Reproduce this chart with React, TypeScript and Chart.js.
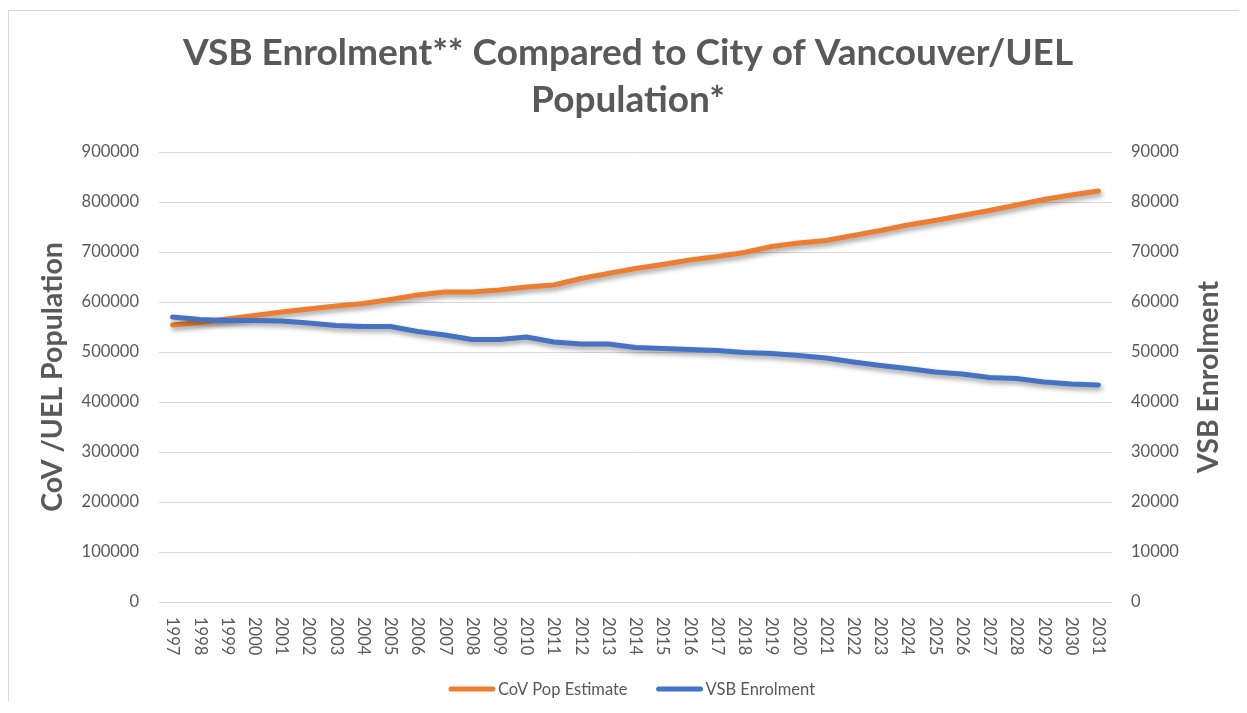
import React, { useEffect, useRef } from "react";
import { Chart, registerables } from "chart.js";

Chart.register(...registerables);

const years = ["1997","1998","1999","2000","2001","2002","2003","2004","2005","2006","2007","2008","2009","2010","2011","2012","2013","2014","2015","2016","2017","2018","2019","2020","2021","2022","2023","2024","2025","2026","2027","2028","2029","2030","2031"];

const covPop = [554000, 559000, 566000, 573000, 580000, 586000, 592000, 597000, 605000, 614000, 620000, 620000, 624000, 630000, 634000, 647000, 657000, 667000, 675000, 684000, 691000, 699000, 711000, 718000, 723000, 733000, 743000, 754000, 763000, 773000, 783000, 794000, 805000, 814000, 822000];

const vsbEnrolment = [57000, 56500, 56300, 56300, 56200, 55800, 55300, 55100, 55100, 54100, 53400, 52500, 52500, 53000, 52000, 51600, 51600, 50900, 50700, 50500, 50300, 49900, 49700, 49300, 48800, 48000, 47300, 46700, 46000, 45600, 44900, 44700, 44000, 43600, 43400];

const titleLines = ["VSB Enrolment** Compared to City of Vancouver/UEL", "Population*"];
const leftTitle = "CoV /UEL Population";
const rightTitle = "VSB Enrolment";
const seriesNames = ["CoV Pop Estimate", "VSB Enrolment"];

const TEXT = "#595959";
const GRID = "#d9d9d9";
const ORANGE = "#ED7D31";
const BLUE = "#4472C4";
const FONT = "Lato, 'Open Sans', sans-serif";

const shadowPlugin = {
  id: "shadowPlugin",
  beforeDatasetsDraw(chart: any) {
    const ctx = chart.ctx;
    ctx.save();
    ctx.shadowColor = "rgba(0,0,0,0.38)";
    ctx.shadowBlur = 5;
    ctx.shadowOffsetX = 1.5;
    ctx.shadowOffsetY = 3;
  },
  afterDatasetsDraw(chart: any) {
    chart.ctx.restore();
  },
};

const extrasPlugin = {
  id: "extrasPlugin",
  afterDraw(chart: any) {
    const ctx = chart.ctx;
    const xs = chart.scales.x;
    const area = chart.chartArea;
    // x tick labels rotated clockwise
    ctx.save();
    ctx.fillStyle = TEXT;
    ctx.font = `16.5px ${FONT}`;
    ctx.textAlign = "left";
    ctx.textBaseline = "middle";
    const labels = chart.data.labels as string[];
    labels.forEach((lab, i) => {
      const x = xs.getPixelForTick(i);
      ctx.save();
      ctx.translate(x, area.bottom + 15);
      ctx.rotate(Math.PI / 2);
      ctx.fillText(lab, 0, 0);
      ctx.restore();
    });
    ctx.restore();

    // right axis title (reads bottom to top)
    ctx.save();
    ctx.fillStyle = TEXT;
    ctx.font = `bold 28.5px ${FONT}`;
    ctx.textAlign = "center";
    ctx.textBaseline = "middle";
    ctx.translate(area.right + 97, (area.top + area.bottom) / 2);
    ctx.rotate(-Math.PI / 2);
    ctx.fillText(rightTitle, 0, 0);
    ctx.restore();

    // legend
    ctx.save();
    ctx.font = `16.5px ${FONT}`;
    ctx.textBaseline = "middle";
    ctx.textAlign = "left";
    const lineW = 46;
    const gapText = 3;
    const gapItems = 29;
    const ds = chart.data.datasets;
    const widths = ds.map((d: any) => lineW + gapText + ctx.measureText(d.label).width);
    const total = widths.reduce((a: number, b: number) => a + b, 0) + gapItems * (ds.length - 1);
    let x = chart.width / 2 + 4 - total / 2;
    const y = area.bottom + 87;
    ds.forEach((d: any, i: number) => {
      ctx.strokeStyle = d.borderColor;
      ctx.lineWidth = 5;
      ctx.lineCap = "round";
      ctx.beginPath();
      ctx.moveTo(x + 2, y);
      ctx.lineTo(x + lineW - 2, y);
      ctx.stroke();
      ctx.fillStyle = TEXT;
      ctx.fillText(d.label, x + lineW + gapText, y + 1);
      x += widths[i] + gapItems;
    });
    ctx.restore();
  },
};

export default function App() {
  const ref = useRef<HTMLCanvasElement | null>(null);

  useEffect(() => {
    if (!ref.current) return;
    const chart = new Chart(ref.current, {
      type: "line",
      data: {
        labels: years,
        datasets: [
          {
            label: seriesNames[0],
            data: covPop,
            borderColor: ORANGE,
            backgroundColor: ORANGE,
            borderWidth: 5,
            pointRadius: 0,
            tension: 0,
            borderJoinStyle: "round",
            borderCapStyle: "round",
            yAxisID: "y",
            order: 1,
          },
          {
            label: seriesNames[1],
            data: vsbEnrolment,
            borderColor: BLUE,
            backgroundColor: BLUE,
            borderWidth: 5,
            pointRadius: 0,
            tension: 0,
            borderJoinStyle: "round",
            borderCapStyle: "round",
            yAxisID: "y1",
            order: 0,
          },
        ],
      },
      options: {
        animation: false,
        responsive: false,
        maintainAspectRatio: false,
        layout: { padding: { left: 0, right: 0, top: 0, bottom: 41 } },
        plugins: {
          legend: { display: false },
          tooltip: { enabled: false },
          title: {
            display: true,
            text: titleLines,
            color: TEXT,
            font: { family: FONT, size: 37, weight: "bold", lineHeight: 47 / 37 },
            padding: { top: 18.5, bottom: 28.5 },
          },
        },
        scales: {
          x: {
            type: "category",
            offset: true,
            grid: { display: false },
            border: { display: false },
            ticks: { display: false },
            afterFit(scale: any) {
              scale.height = 60;
            },
          },
          y: {
            position: "left",
            min: 0,
            max: 900000,
            ticks: {
              stepSize: 100000,
              color: TEXT,
              padding: 20,
              font: { family: FONT, size: 16.5 },
              callback: (v: any) => String(v),
            },
            grid: { color: GRID, lineWidth: 1, drawTicks: false },
            border: { display: false },
            title: {
              display: true,
              text: leftTitle,
              color: TEXT,
              font: { family: FONT, size: 28.5, weight: "bold", lineHeight: 1.2 },
              padding: { top: 27, bottom: 0 },
            },
            afterFit(scale: any) {
              scale.width = 150;
            },
          },
          y1: {
            position: "right",
            min: 0,
            max: 90000,
            ticks: {
              stepSize: 10000,
              color: TEXT,
              padding: 19,
              font: { family: FONT, size: 16.5 },
              callback: (v: any) => String(v),
            },
            grid: { display: false, drawTicks: false },
            border: { display: false },
            afterFit(scale: any) {
              scale.width = 135;
            },
          },
        },
      },
      plugins: [shadowPlugin, extrasPlugin],
    });
    return () => chart.destroy();
  }, []);

  return (
    <div
      style={{
        position: "relative",
        top: 2,
        width: 1230,
        height: 692,
        overflow: "hidden",
        borderLeft: "1px solid #d9d9d9",
        borderTop: "1px solid #d9d9d9",
        background: "#fff",
      }}
    >
      <canvas ref={ref} width={1238} height={692} style={{ display: "block", width: 1238, height: 692 }} />
    </div>
  );
}
